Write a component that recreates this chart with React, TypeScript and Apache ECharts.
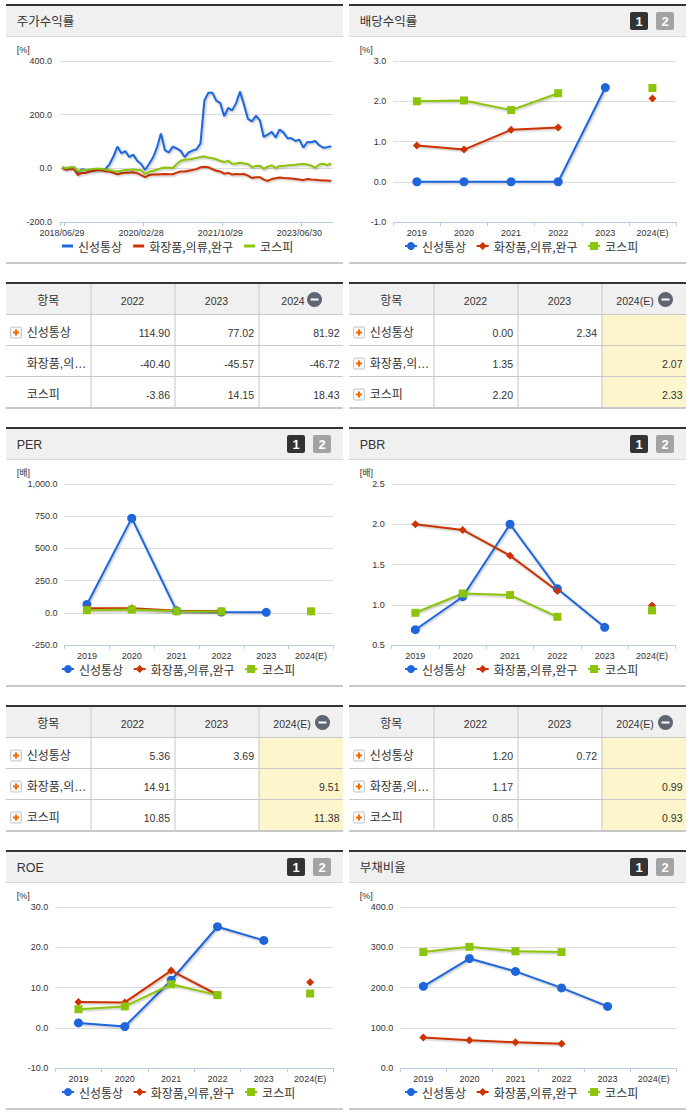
import React, { useEffect, useRef } from "react";
import * as echarts from "echarts";

const seriesNames = ["신성통상", "화장품,의류,완구", "코스피"];
const years = ["2019", "2020", "2021", "2022", "2023", "2024(E)"];

// 주가수익률 (monthly)
const returnTickIndex = [0, 20, 40, 60];
const returnTickLabels = ["2018/06/29", "2020/02/28", "2021/10/29", "2023/06/30"];
const returnBlue = [3, 1, 2, 3, -17, -3, -6, -8, -5, -6, -5, -2, 15, 44, 81, 56, 64, 42, 51, 28, 16, -6, 16, 40, 77, 130, 68, 59, 81, 74, 65, 42, 59, 66, 71, 93, 253, 282, 282, 252, 243, 194, 225, 216, 243, 286, 237, 184, 175, 196, 179, 117, 126, 136, 115, 145, 133, 112, 112, 102, 107, 77, 98, 97, 102, 86, 77, 79, 82];
const returnRed = [2, -5, -2, -2, -25, -17, -17, -12, -9, -6, -6, -11, -12, -17, -22, -18, -16, -16, -15, -18, -25, -33, -25, -23, -23, -22, -21, -22, -22, -16, -12, -12, -9, -6, -3, 4, 6, 4, -3, -9, -12, -20, -17, -23, -21, -22, -21, -27, -36, -33, -33, -42, -47, -40, -37, -34, -36, -37, -38, -40, -42, -44, -40, -42, -43, -44, -45, -45, -47];
const returnGreen = [3, 0, 3, 5, -10, -7, -6, -4, -2, -2, -2, -4, -7, -10, -12, -9, -6, -6, -4, -6, -7, -21, -13, -9, -5, 0, 3, 2, 1, 16, 28, 32, 33, 36, 39, 42, 44, 40, 38, 34, 28, 23, 28, 17, 18, 21, 18, 16, 4, 9, 10, -2, 6, 11, 1, 9, 9, 11, 12, 13, 15, 16, 14, 10, 2, 14, 17, 12, 18];

const dividendBlue = [0, 0, 0, 0, 2.34, null];
const dividendRed = [0.9, 0.8, 1.29, 1.35, null, 2.07];
const dividendGreen = [2.0, 2.02, 1.78, 2.2, null, 2.33];

const perBlue = [65, 735, 15, 5.36, 3.69, null];
const perRed = [35, 35, 15, 14.91, null, 9.51];
const perGreen = [20, 25, 12, 10.85, null, 11.38];

const pbrBlue = [0.69, 1.1, 2.0, 1.2, 0.72, null];
const pbrRed = [2.0, 1.93, 1.61, 1.17, null, 0.99];
const pbrGreen = [0.9, 1.14, 1.12, 0.85, null, 0.93];

const roeBlue = [1.2, 0.3, 11.8, 25.1, 21.7, null];
const roeRed = [6.4, 6.3, 14.2, 8.2, null, 11.3];
const roeGreen = [4.6, 5.3, 10.8, 8.1, null, 8.5];

const debtBlue = [203, 272, 240, 199, 153, null];
const debtRed = [76, 69, 64, 60, null, null];
const debtGreen = [288, 301, 290, 288, null, null];

const tableRowLabels = ["신성통상", "화장품,의…", "코스피"];
const returnRows = [["114.90", "77.02", "81.92"], ["-40.40", "-45.57", "-46.72"], ["-3.86", "14.15", "18.43"]];
const dividendRows = [["0.00", "2.34", ""], ["1.35", "", "2.07"], ["2.20", "", "2.33"]];
const perRows = [["5.36", "3.69", ""], ["14.91", "", "9.51"], ["10.85", "", "11.38"]];
const pbrRows = [["1.20", "0.72", ""], ["1.17", "", "0.99"], ["0.85", "", "0.93"]];

const BLUE = "#1f66dd";
const RED = "#cc3300";
const GREEN = "#8cc40a";
const KR = '"Noto Sans CJK KR"';
const LAT = '"Liberation Sans"';
const MIX = `${LAT}, ${KR}`;

type PanelSpec = {
  col: 0 | 1; row: 0 | 1 | 2; title: string; unit: string; buttons: boolean;
  x0: number; x1: number; min: number; max: number; interval: number;
  data?: any[][]; rows?: string[][]; lastHead?: string; highlight?: boolean; icons?: boolean[];
};

const panels: PanelSpec[] = [
  { col: 0, row: 0, title: "주가수익률", unit: "[%]", buttons: false, x0: 60, x1: 333, min: -200, max: 400, interval: 200, rows: returnRows, lastHead: "2024", highlight: false, icons: [true, false, false] },
  { col: 1, row: 0, title: "배당수익률", unit: "[%]", buttons: true, x0: 393.3, x1: 676, min: -1, max: 3, interval: 1, data: [dividendBlue, dividendRed, dividendGreen], rows: dividendRows, lastHead: "2024(E)", highlight: true, icons: [true, true, true] },
  { col: 0, row: 1, title: "PER", unit: "[배]", buttons: true, x0: 64.5, x1: 333.5, min: -250, max: 1000, interval: 250, data: [perBlue, perRed, perGreen], rows: perRows, lastHead: "2024(E)", highlight: true, icons: [true, true, true] },
  { col: 1, row: 1, title: "PBR", unit: "[배]", buttons: true, x0: 391.7, x1: 675.7, min: 0.5, max: 2.5, interval: 0.5, data: [pbrBlue, pbrRed, pbrGreen], rows: pbrRows, lastHead: "2024(E)", highlight: true, icons: [true, true, true] },
  { col: 0, row: 2, title: "ROE", unit: "[%]", buttons: true, x0: 55.3, x1: 333.3, min: -10, max: 30, interval: 10, data: [roeBlue, roeRed, roeGreen] },
  { col: 1, row: 2, title: "부채비율", unit: "[%]", buttons: true, x0: 400.3, x1: 676.7, min: 0, max: 400, interval: 100, data: [debtBlue, debtRed, debtGreen] },
];

const ROW_TOP = [0, 423, 846];
const ROW_H = [424, 423, 269];
const COL_LEFT = [0, 345];
const COL_W = [345, 346];

const rect = (x: number, y: number, w: number, h: number, fill: string, extra: any = {}) => ({ type: "rect", shape: { x, y, width: w, height: h, ...(extra.shape || {}) }, style: { fill, ...(extra.style || {}) }, silent: true });
const text = (x: number, y: number, s: string, font: string, fill = "#333", align = "left") => ({ type: "text", x, y, silent: true, style: { text: s, font, fill, textAlign: align, textVerticalAlign: "middle" } });

function buildGraphics(p: PanelSpec) {
  const l = p.col === 0 ? 6 : 4;
  const r = p.col === 0 ? 343 : 341;
  const g: any[] = [];
  g.push(rect(l, 6, r - l, 30, "#f0f0f0"));
  g.push(rect(l, 4, r - l, 2, "#333333"));
  g.push(rect(l, 36, r - l, 1, "#d8d8d8"));
  g.push(rect(l, 262, r - l, 2, "#c8c8c8"));
  g.push(text(l + 10.7, 22, p.title, `12.5px ${MIX}`, "#333"));
  g.push(text(l + 10.7, 49.5, p.unit, `9px ${MIX}`, "#333"));
  if (p.buttons) {
    const bx = p.col === 0 ? 287 : 285;
    g.push(rect(bx, 12, 18, 18, "#333333", { shape: { r: 2 } }));
    g.push(text(bx + 9, 21.5, "1", `bold 13px ${LAT}`, "#fff", "center"));
    g.push(rect(bx + 26, 12, 18, 18, "#a3a3a3", { shape: { r: 2 } }));
    g.push(text(bx + 35, 21.5, "2", `bold 13px ${LAT}`, "#fff", "center"));
  }
  if (p.rows) {
    const T = 282;
    const xs = [l, l + 84.5, l + 168.5, l + 252.5, r];
    g.push(rect(l, T + 2, r - l, 30, "#f0f0f0"));
    if (p.highlight) g.push(rect(xs[3], T + 33, r - xs[3], 92, "#fdf6cc"));
    g.push(rect(l, T, r - l, 2, "#333333"));
    [32, 63, 94].forEach((d) => g.push(rect(l, T + d, r - l, 1, "#c8c8c8")));
    g.push(rect(l, T + 125, r - l, 2, "#c8c8c8"));
    xs.slice(1, 4).forEach((x) => g.push(rect(x, T + 2, 1, 123, "#c8c8c8")));
    const headers = ["항목", "2022", "2023", p.lastHead || ""];
    const hy = T + 18;
    g.push(text((xs[0] + xs[1]) / 2, hy + 1, headers[0], `12px ${MIX}`, "#333", "center"));
    g.push(text((xs[1] + xs[2]) / 2, hy + 1, headers[1], `10.5px ${LAT}`, "#333", "center"));
    g.push(text((xs[2] + xs[3]) / 2, hy + 1, headers[2], `10.5px ${LAT}`, "#333", "center"));
    const wide = (p.lastHead || "").length > 4;
    const hx = wide ? xs[3] + 33.5 : xs[3] + 34.5;
    const ix = wide ? xs[3] + 64 : xs[3] + 56;
    g.push(text(hx, hy + 1, headers[3], `10.5px ${LAT}`, "#333", "center"));
    g.push({ type: "circle", shape: { cx: ix, cy: hy - 0.5, r: 7.5 }, style: { fill: "#5f6673" }, silent: true });
    g.push(rect(ix - 4, hy - 1.5, 8, 2, "#ffffff"));
    p.rows.forEach((row, i) => {
      const cy = T + 49.5 + i * 31;
      g.push(text(l + 20.7, cy + 1, tableRowLabels[i], `12px ${MIX}`, "#333"));
      if (p.icons && p.icons[i]) {
        const bx = l + 4.5, by = cy - 4.5;
        g.push({ type: "rect", shape: { x: bx, y: by, width: 11, height: 11, r: 1.5 }, style: { fill: "#f8f8f8", stroke: "#c4c4c4", lineWidth: 1 }, silent: true });
        g.push(rect(bx + 2.5, by + 4.5, 6, 2, "#f26a00"));
        g.push(rect(bx + 4.5, by + 2.5, 2, 6, "#f26a00"));
      }
      row.forEach((v, j) => {
        if (v) g.push(text(xs[j + 1] + 79.5 + (j === 2 ? 1.5 : 0), cy + 1, v, `10.5px ${LAT}`, "#333", "right"));
      });
    });
  }
  return g;
}

const lineBase = (name: string, color: string, symbol: string, symbolSize: number, data: any[]) => ({
  name, type: "line", data, symbol, symbolSize, connectNulls: false,
  lineStyle: { color, width: 2, shadowColor: "rgba(0,0,0,0.3)", shadowBlur: 2, shadowOffsetX: 1, shadowOffsetY: 1 },
  itemStyle: { color },
  emphasis: { disabled: true },
});

function buildOption(p: PanelSpec) {
  const ox = COL_LEFT[p.col];
  const isReturns = !p.data;
  const axisColor = "#b8cce0";
  const grid = { left: p.x0 - ox, width: p.x1 - p.x0, top: 61, height: 161, containLabel: false };
  const labelStyle = { color: "#333", fontSize: 9, fontFamily: LAT };
  const yAxis = {
    type: "value", min: p.min, max: p.max, interval: p.interval,
    axisLine: { show: false }, axisTick: { show: false },
    splitLine: { show: true, lineStyle: { color: "#dcdcdc", width: 1 } },
    axisLabel: {
      ...labelStyle, margin: isReturns ? 8 : 7, padding: [2, 0, 0, 0],
      formatter: (v: number) => v.toLocaleString("en-US", { minimumFractionDigits: 1, maximumFractionDigits: 1 }),
    },
  };
  const xAxis: any = isReturns
    ? {
        type: "value", min: -0.5, max: 68.5, splitLine: { show: false },
        axisLine: { show: true, onZero: false, lineStyle: { color: axisColor } },
        axisTick: { show: true, length: 4, lineStyle: { color: axisColor }, customValues: [-0.5, ...returnTickIndex.map((i) => i + 0.5)] },
        axisLabel: {
          ...labelStyle, margin: 6, customValues: returnTickIndex, hideOverlap: false,
          formatter: (v: number) => returnTickLabels[returnTickIndex.indexOf(v)] ?? "",
        },
      }
    : {
        type: "category", data: years, boundaryGap: true, splitLine: { show: false },
        axisLine: { show: true, onZero: false, lineStyle: { color: axisColor } },
        axisTick: { show: true, length: 4, lineStyle: { color: axisColor } },
        axisLabel: { ...labelStyle, margin: 6, interval: 0 },
      };
  const series = isReturns
    ? [
        lineBase(seriesNames[0], BLUE, "none", 0, returnBlue.map((v, i) => [i, v])),
        lineBase(seriesNames[1], RED, "none", 0, returnRed.map((v, i) => [i, v])),
        lineBase(seriesNames[2], GREEN, "none", 0, returnGreen.map((v, i) => [i, v])),
      ]
    : [
        lineBase(seriesNames[0], BLUE, "circle", 9, p.data![0]),
        lineBase(seriesNames[1], RED, "diamond", 8, p.data![1]),
        lineBase(seriesNames[2], GREEN, "rect", 8, p.data![2]),
      ];
  const legend = isReturns
    ? {
        show: true, selectedMode: false, orient: "horizontal",
        data: seriesNames.map((name) => ({ name, icon: "rect" })),
        left: 62, top: 240,
        itemWidth: 11, itemHeight: 3, itemGap: 11, padding: 0,
        textStyle: { color: "#333", fontSize: 12, fontFamily: KR, padding: [1, 0, 0, 0] },
      }
    : {
        show: true, selectedMode: false, data: seriesNames, orient: "horizontal",
        left: p.col === 0 ? 61 : 404 - ox, top: 240,
        itemWidth: 12, itemHeight: 10, itemGap: 9.5, padding: 0,
        textStyle: { color: "#333", fontSize: 12, fontFamily: KR, padding: [1, 0, 0, 0] },
      };
  return {
    animation: false, backgroundColor: "transparent",
    grid, xAxis, yAxis, series, legend,
    graphic: { elements: buildGraphics(p) },
  };
}

function Panel({ spec }: { spec: PanelSpec }) {
  const ref = useRef<HTMLDivElement>(null);
  useEffect(() => {
    const chart = echarts.init(ref.current!, null, { renderer: "svg" });
    chart.setOption(buildOption(spec) as any);
    return () => chart.dispose();
  }, [spec]);
  return (
    <div
      ref={ref}
      style={{ position: "absolute", left: COL_LEFT[spec.col], top: ROW_TOP[spec.row], width: COL_W[spec.col], height: ROW_H[spec.row] }}
    />
  );
}

export default function App() {
  return (
    <div style={{ position: "absolute", left: 0, top: 0, width: 691, height: 1115, background: "#fff", overflow: "hidden" }}>
      {panels.map((p) => <Panel key={p.title} spec={p} />)}
    </div>
  );
}
